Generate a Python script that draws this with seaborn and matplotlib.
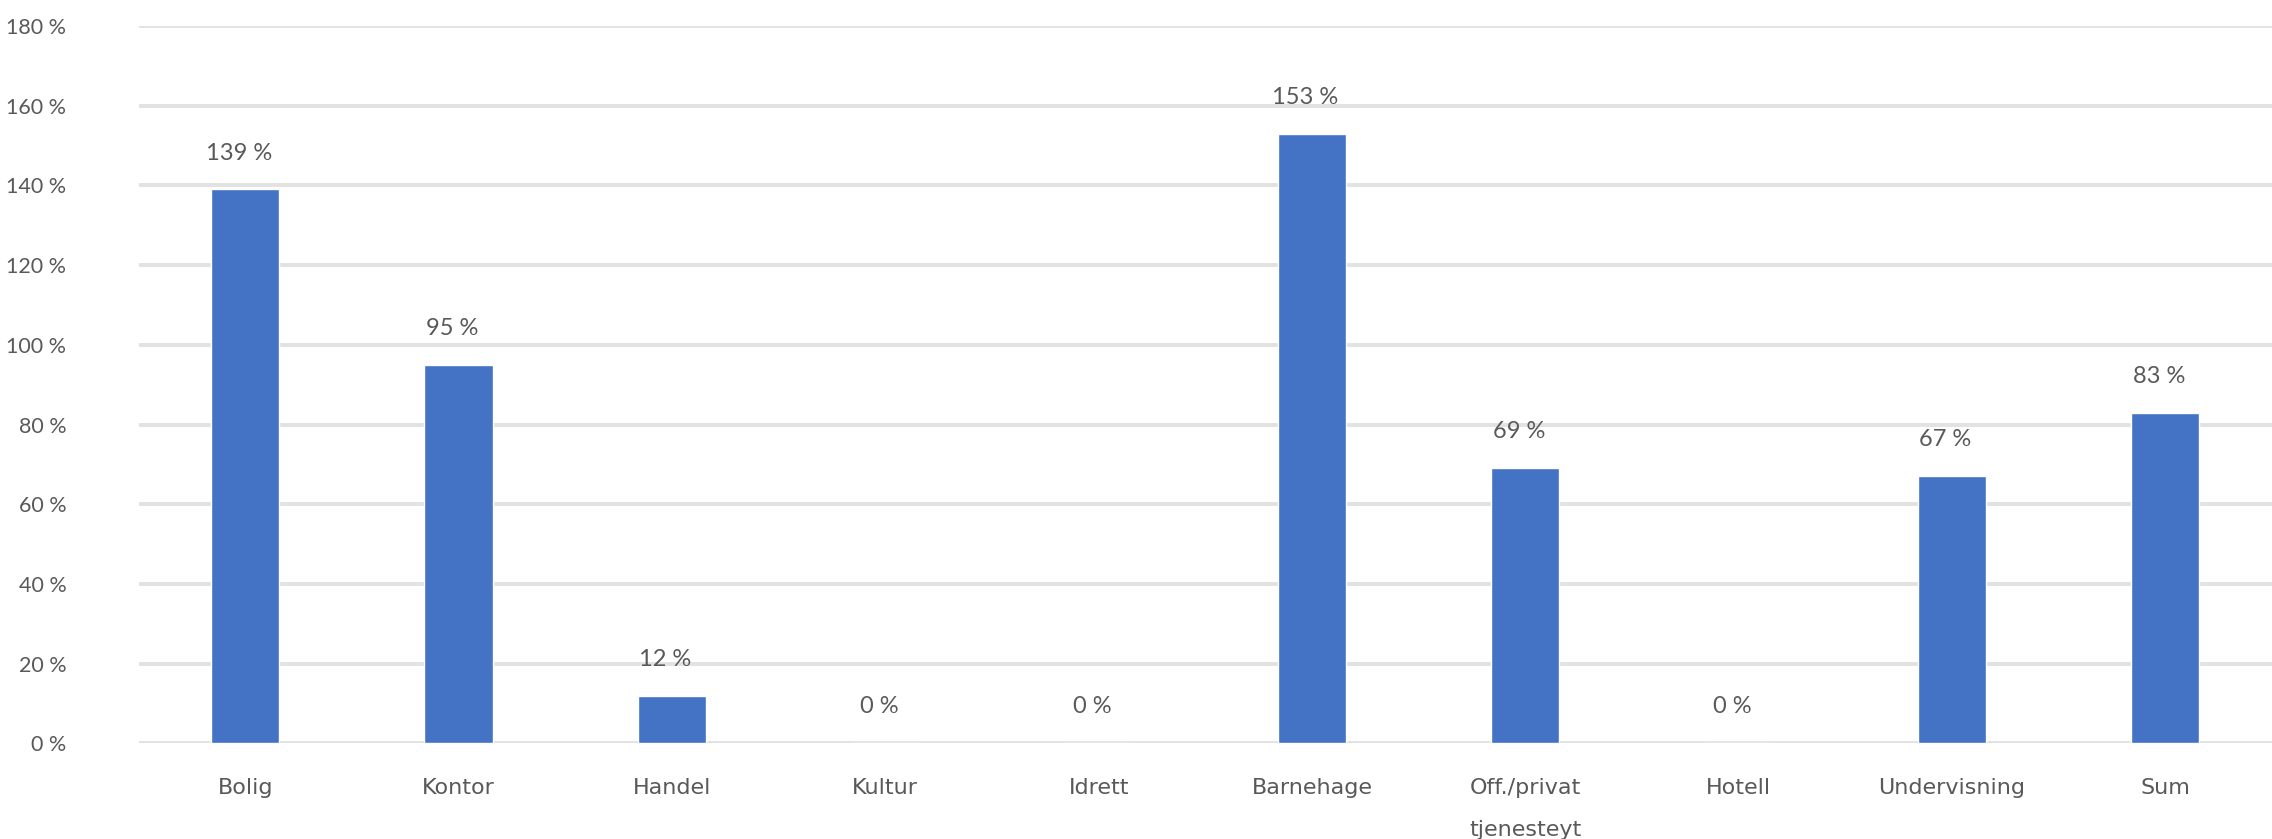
import matplotlib.pyplot as plt
import pandas as pd
import seaborn as sns

categories = ['Bolig', 'Kontor', 'Handel', 'Kultur', 'Idrett', 'Barnehage',
              'Off./privat\ntjenesteyt', 'Hotell', 'Undervisning', 'Sum']
values = [139, 95, 12, 0, 0, 153, 69, 0, 67, 83]
yticks = [0, 20, 40, 60, 80, 100, 120, 140, 160, 180]

df = pd.DataFrame({'kategori': categories, 'andel': values})

sns.set_style('white')
plt.rcParams['font.family'] = ['Lato', 'DejaVu Sans']

txt = '#595959'

fig = plt.figure(figsize=(22.72, 8.39), dpi=100)
ax = fig.add_axes([0.061, 0.114, 0.939, 0.855])

sns.barplot(data=df, x='kategori', y='andel', color='#4472C4', saturation=1,
            width=0.32, ax=ax, zorder=3)

ax.set_ylim(0, 180)
ax.set_xlim(-0.5, 9.5)
ax.set_yticks(yticks)
ax.set_yticklabels([f'{t} %' for t in yticks], fontsize=15.5)
ax.yaxis.grid(True, color='#E2E2E2', linewidth=2.8, zorder=0)
ax.set_axisbelow(True)
for s in ax.spines.values():
    s.set_visible(False)
ax.tick_params(axis='both', length=0, labelcolor=txt)
ax.tick_params(axis='x', pad=25)
ax.tick_params(axis='y', pad=52)
for lab in ax.get_xticklabels():
    lab.set_fontfamily('DejaVu Sans')
    lab.set_fontsize(16)
    lab.set_linespacing(2.4)
ax.set_xlabel('')
ax.set_ylabel('')

for i, v in enumerate(values):
    ax.text(i - 0.03, v + 6.5, f'{v} %', ha='center', va='bottom', fontsize=17, color=txt)

plt.savefig('out.png', dpi=100)
